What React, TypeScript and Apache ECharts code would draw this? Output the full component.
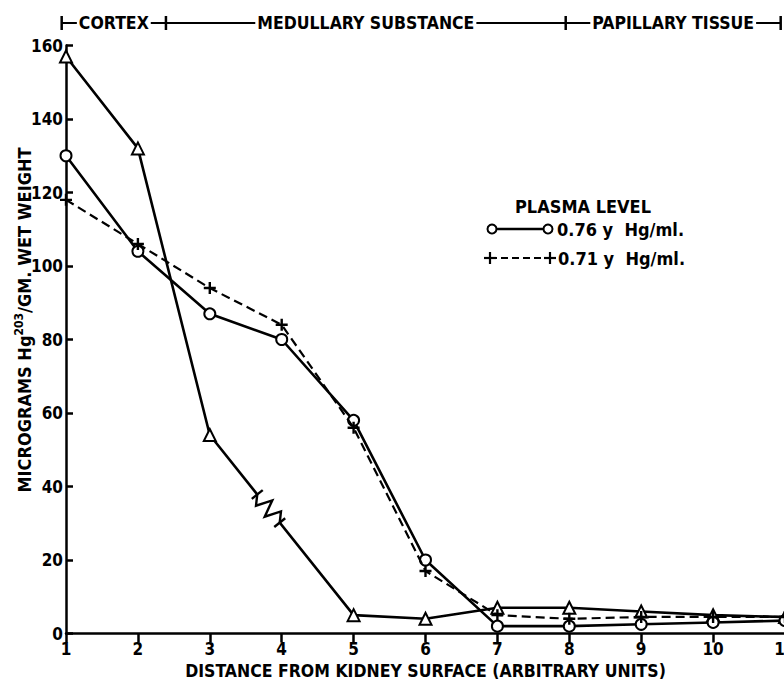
import React, { useEffect, useRef } from "react";
import * as echarts from "echarts";

// ---- data ----
const xTicks = [1, 2, 3, 4, 5, 6, 7, 8, 9, 10, 11];
const yTicks = [0, 20, 40, 60, 80, 100, 120, 140, 160];

const circleX = [1, 2, 3, 4, 5, 6, 7, 8, 9, 10, 11];
const circleY = [130, 104, 87, 80, 58, 20, 2, 2, 2.5, 3, 3.5];

const plusX = [1, 2, 3, 4, 5, 6, 7, 8, 9, 10, 11];
const plusY = [118, 106, 94, 84, 56, 17, 5, 4, 4.5, 4.5, 4.5];

const triangleX = [1, 2, 3, 5, 6, 7, 8, 9, 10, 11];
const triangleY = [157, 132, 54, 5, 4, 7, 7, 6, 5, 4.5];

// region header: boundaries in x units and labels
const regionBounds = [0.94, 2.39, 7.95, 10.94];
const regionLabels = ["CORTEX", "MEDULLARY SUBSTANCE", "PAPILLARY TISSUE"];

const legendTitle = "PLASMA LEVEL";
const legendLabels = ["0.76 y  Hg/ml.", "0.71 y  Hg/ml."];

const xTitle = "DISTANCE FROM KIDNEY SURFACE (ARBITRARY UNITS)";

const FONT = "'Liberation Sans Narrow', 'DejaVu Sans Condensed', 'Roboto Condensed', 'Liberation Sans', Arial, sans-serif";
const PLUS = "path://M4,0H6V4H10V6H6V10H4V6H0V4H4Z";

const zip = (xs: number[], ys: number[]) => xs.map((x, i) => [x, ys[i]]);

export default function App() {
  const ref = useRef<HTMLDivElement>(null);
  useEffect(() => {
    if (!ref.current) return;
    const chart = echarts.init(ref.current, null, { renderer: "svg" });
    const textStyle = { fontFamily: FONT, fontWeight: "bold" as const, color: "#000" };
    chart.setOption({
      animation: false,
      backgroundColor: "#fff",
      grid: { left: 66, right: -1, top: 45.5, bottom: 46.5, containLabel: false, outerBoundsMode: "none" },
      xAxis: {
        type: "value",
        min: 1,
        max: 11,
        interval: 1,
        name: xTitle,
        nameLocation: "middle",
        nameGap: 21,
        nameTextStyle: { ...textStyle, fontSize: 17.5 },
        axisLine: { lineStyle: { color: "#000", width: 2.5 } },
        axisTick: { inside: false, length: 9, lineStyle: { color: "#000", width: 2.5 } },
        axisLabel: { ...textStyle, fontSize: 17, margin: 7, formatter: (v: number) => (xTicks.includes(v) ? String(v) : "") },
        splitLine: { show: false },
      },
      yAxis: {
        type: "value",
        min: 0,
        max: 160,
        interval: 20,
        axisLine: { show: true, lineStyle: { color: "#000", width: 2.5 } },
        axisTick: { show: true, inside: true, length: 7, lineStyle: { color: "#000", width: 2.5 } },
        axisLabel: { ...textStyle, fontSize: 17, margin: 3, formatter: (v: number) => (yTicks.includes(v) ? String(v) : "") },
        splitLine: { show: false },
      },
      series: [
        {
          type: "line",
          data: zip(triangleX, triangleY),
          symbol: "triangle",
          symbolSize: 12,
          lineStyle: { color: "#000", width: 2.6 },
          itemStyle: { color: "#fff", borderColor: "#000", borderWidth: 2 },
          z: 3,
        },
        {
          type: "line",
          data: zip(circleX, circleY),
          symbol: "circle",
          symbolSize: 11,
          lineStyle: { color: "#000", width: 2.6 },
          itemStyle: { color: "#fff", borderColor: "#000", borderWidth: 2 },
          z: 4,
        },
        {
          type: "line",
          data: zip(plusX, plusY),
          symbol: PLUS,
          symbolSize: 12,
          lineStyle: { color: "#000", width: 2.2, type: [9, 5] },
          itemStyle: { color: "#000", borderWidth: 0 },
          z: 5,
        },
      ],
    });

    // ---- overlays computed through the axis scales ----
    const px = (x: number, y: number) => chart.convertToPixel({ gridIndex: 0 }, [x, y]) as number[];
    const graphics: any[] = [];

    // header
    const hy = 23;
    const bx = regionBounds.map((b) => px(b, 0)[0]);
    graphics.push({ type: "line", shape: { x1: bx[0], y1: hy, x2: bx[bx.length - 1], y2: hy }, style: { stroke: "#000", lineWidth: 2 }, z: 10 });
    bx.forEach((x) => graphics.push({ type: "line", shape: { x1: x, y1: hy - 7, x2: x, y2: hy + 7 }, style: { stroke: "#000", lineWidth: 2.5 }, z: 10 }));
    regionLabels.forEach((lab, i) => {
      graphics.push({
        type: "text",
        x: (bx[i] + bx[i + 1]) / 2,
        y: hy,
        style: { text: lab, fontFamily: FONT, fontWeight: "bold", fontSize: 17.5, fill: "#000", align: "center", verticalAlign: "middle", backgroundColor: "#fff", padding: [0, 2] },
        z: 11,
      });
    });

    // y-axis title
    graphics.push({
      type: "text",
      x: 24,
      y: 320,
      rotation: Math.PI / 2,
      style: {
        text: "MICROGRAMS Hg{sup|203}/GM. WET WEIGHT",
        fontFamily: FONT,
        fontWeight: "bold",
        fontSize: 18,
        fill: "#000",
        align: "center",
        verticalAlign: "middle",
        rich: { sup: { fontFamily: FONT, fontWeight: "bold", fontSize: 12, fill: "#000", verticalAlign: "bottom", padding: [0, 0, 11, 0] } },
      },
      z: 10,
    });

    // legend
    const lg = { fontFamily: FONT, fontWeight: "bold", fontSize: 18, fill: "#000", verticalAlign: "middle" };
    graphics.push({ type: "text", x: 515, y: 206, style: { ...lg, text: legendTitle, align: "left" }, z: 10 });
    graphics.push({ type: "line", shape: { x1: 492, y1: 229, x2: 548, y2: 229 }, style: { stroke: "#000", lineWidth: 2.5 }, z: 10 });
    [492, 548].forEach((x) => graphics.push({ type: "circle", shape: { cx: x, cy: 229, r: 4.5 }, style: { fill: "#fff", stroke: "#000", lineWidth: 2 }, z: 11 }));
    graphics.push({ type: "text", x: 557, y: 229, style: { ...lg, text: legendLabels[0], align: "left" }, z: 10 });
    graphics.push({ type: "line", shape: { x1: 490, y1: 258, x2: 550, y2: 258 }, style: { stroke: "#000", lineWidth: 2, lineDash: [7, 4] }, z: 10 });
    [490, 550].forEach((x) => {
      graphics.push({ type: "line", shape: { x1: x - 6, y1: 258, x2: x + 6, y2: 258 }, style: { stroke: "#000", lineWidth: 2.2 }, z: 11 });
      graphics.push({ type: "line", shape: { x1: x, y1: 252, x2: x, y2: 264 }, style: { stroke: "#000", lineWidth: 2.2 }, z: 11 });
    });
    graphics.push({ type: "text", x: 558, y: 258, style: { ...lg, text: legendLabels[1], align: "left" }, z: 10 });

    // break mark on the triangle line between x=3 and x=5
    const a = px(3, 54);
    const b = px(5, 5);
    const dx = b[0] - a[0];
    const dy = b[1] - a[1];
    const len = Math.hypot(dx, dy);
    const ux = dx / len, uy = dy / len;
    const vx = -uy, vy = ux;
    const s0 = len * 0.33;
    const L = 36;
    const P = (u: number, v: number) => [a[0] + ux * (s0 + u) + vx * v, a[1] + uy * (s0 + u) + vy * v];
    graphics.push({ type: "line", shape: { x1: P(0, 0)[0], y1: P(0, 0)[1], x2: P(L, 0)[0], y2: P(L, 0)[1] }, style: { stroke: "#fff", lineWidth: 5 }, z: 12 });
    graphics.push({
      type: "polyline",
      shape: { points: [P(0, 0), P(8, 8), P(14, -8), P(22, 8), P(28, -8), P(L, 0)] },
      style: { stroke: "#000", lineWidth: 2.4, fill: null },
      z: 13,
    });
    [0, L].forEach((u) => {
      const p1 = P(u, -7), p2 = P(u, 7);
      graphics.push({ type: "line", shape: { x1: p1[0], y1: p1[1], x2: p2[0], y2: p2[1] }, style: { stroke: "#000", lineWidth: 2.4 }, z: 13 });
    });

    chart.setOption({ graphic: graphics });
    return () => chart.dispose();
  }, []);

  return <div ref={ref} style={{ position: "fixed", left: 0, top: 0, width: 784, height: 680, background: "#fff" }} />;
}
